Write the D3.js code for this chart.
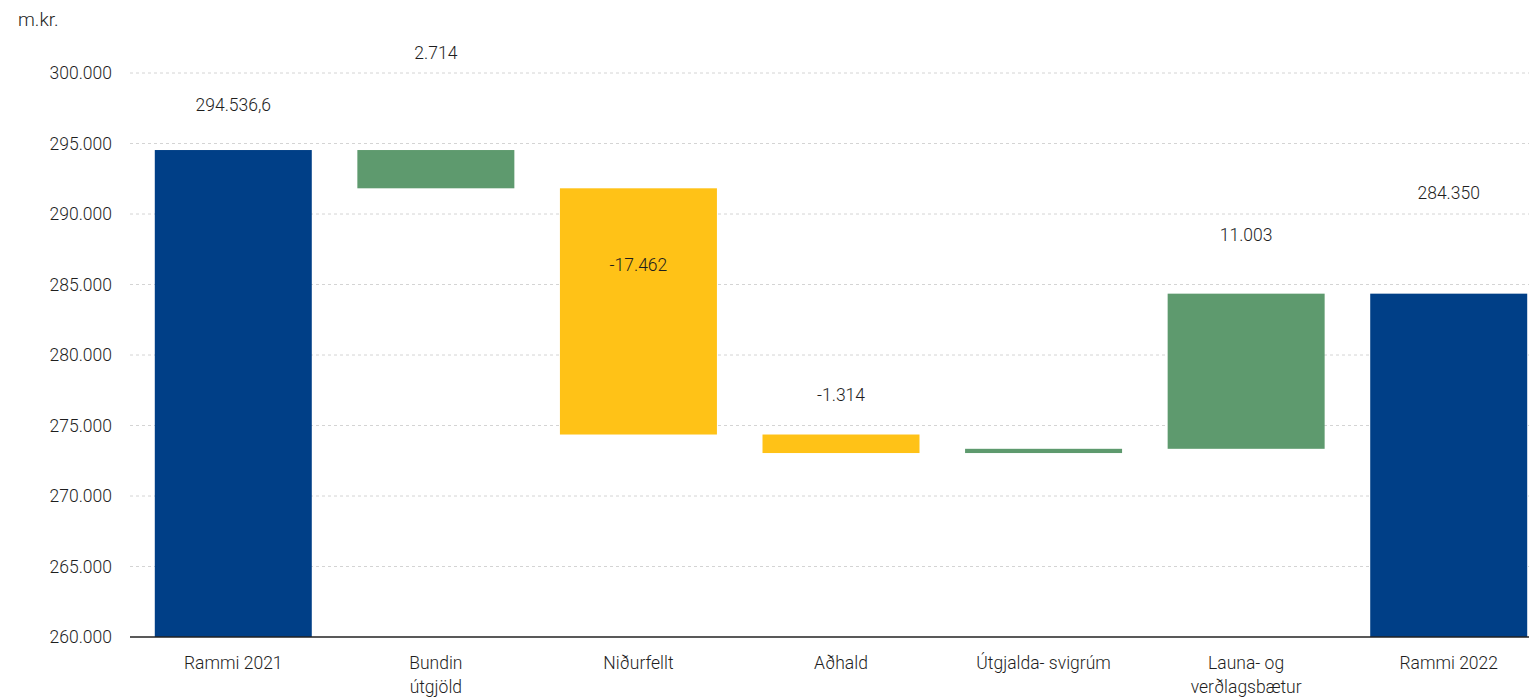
<!DOCTYPE html>
<html><head><meta charset="utf-8">
<script src="https://cdn.jsdelivr.net/npm/d3@7"></script>
<style>body{margin:0;background:#fff}svg{display:block}text{font-family:Roboto,"Open Sans",sans-serif;font-weight:300;fill:#1e1e1e}</style>
</head><body>
<svg id="c" width="1529" height="700"></svg>
<script>
// ---- data ----
const categories = ["Rammi 2021","Bundin útgjöld","Niðurfellt","Aðhald","Útgjalda- svigrúm","Launa- og verðlagsbætur","Rammi 2022"];
const categoryLines = [["Rammi 2021"],["Bundin","útgjöld"],["Niðurfellt"],["Aðhald"],["Útgjalda- svigrúm"],["Launa- og","verðlagsbætur"],["Rammi 2022"]];
const barFrom = [260000, 294536.6, 291822.6, 274360.6, 273046.6, 273347, 260000];
const barTo   = [294536.6, 291822.6, 274360.6, 273046.6, 273347, 284350, 284350];
const barKind = ["total","increase","decrease","decrease","increase","increase","total"];
const valueLabels = ["294.536,6","2.714","-17.462","-1.314","","11.003","284.350"];
const yTicks = [260000,265000,270000,275000,280000,285000,290000,295000,300000];
const yTickLabels = ["260.000","265.000","270.000","275.000","280.000","285.000","290.000","295.000","300.000"];
const unitLabel = "m.kr.";

// ---- layout ----
const colors = {total:"#003f87", increase:"#5e9a6e", decrease:"#ffc217"};
const labelOffsets = [-45, -97, 77, -40, 0, -59, -101]; // px relative to bar top (centre of text)
const svg = d3.select("#c");
const x = d3.scaleBand().domain(categories).range([132,1550]).paddingInner(0.225).paddingOuter(0.1125);
const y = d3.scaleLinear().domain([260000,300000]).range([637,73]);

// grid
svg.append("g").selectAll("line").data(yTicks.slice(1)).join("line")
  .attr("x1",130).attr("x2",1529).attr("y1",d=>y(d)).attr("y2",d=>y(d))
  .attr("stroke","#d4d4d4").attr("stroke-width",1).attr("stroke-dasharray","3,3");

// y tick labels
svg.append("g").selectAll("text").data(yTicks).join("text")
  .attr("x",112).attr("y",d=>y(d)).attr("dy","0.35em").attr("text-anchor","end")
  .attr("font-size",17.5).text((d,i)=>yTickLabels[i]);

svg.append("text").attr("x",18).attr("y",26).attr("font-size",19).text(unitLabel);

// bars
const data = categories.map((c,i)=>({c,i,from:barFrom[i],to:barTo[i],kind:barKind[i],label:valueLabels[i]}));
svg.append("g").selectAll("rect").data(data).join("rect")
  .attr("x",d=>x(d.c)).attr("width",x.bandwidth())
  .attr("y",d=>y(Math.max(d.from,d.to)))
  .attr("height",d=>Math.abs(y(d.from)-y(d.to)))
  .attr("fill",d=>colors[d.kind]);

// axis line
svg.append("line").attr("x1",130).attr("x2",1529).attr("y1",y(260000)).attr("y2",y(260000))
  .attr("stroke","#222").attr("stroke-width",1.5);

// value labels
svg.append("g").selectAll("text").data(data.filter(d=>d.label)).join("text")
  .attr("x",d=>x(d.c)+x.bandwidth()/2)
  .attr("y",d=>y(Math.max(d.from,d.to))+labelOffsets[d.i])
  .attr("dy","0.35em").attr("text-anchor","middle").attr("font-size",17.5)
  .text(d=>d.label);

// category labels
const cl = svg.append("g").selectAll("text").data(data).join("text")
  .attr("text-anchor","middle").attr("font-size",17.5)
  .attr("x",d=>x(d.c)+x.bandwidth()/2).attr("y",669);
cl.selectAll("tspan").data(d=>categoryLines[d.i].map(t=>({t,x:x(d.c)+x.bandwidth()/2}))).join("tspan")
  .attr("x",t=>t.x).attr("dy",(t,j)=>j?24:0).text(t=>t.t);
</script>
</body></html>
